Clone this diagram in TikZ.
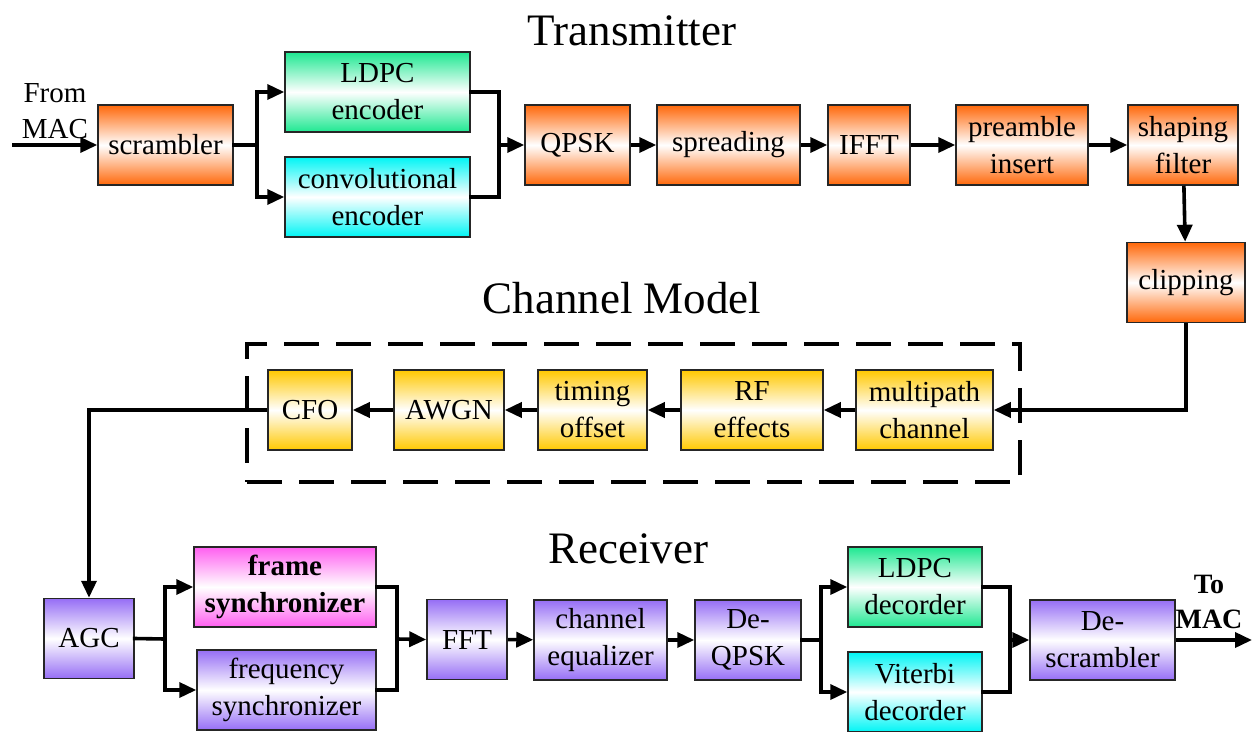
\documentclass[tikz,border=0pt]{standalone}
\usepackage{fontspec}
\setmainfont{Liberation Serif}
\usetikzlibrary{arrows.meta}
\definecolor{orng}{RGB}{255,104,10}
\definecolor{mint}{RGB}{30,232,145}
\definecolor{aqua}{RGB}{0,245,245}
\definecolor{gold}{RGB}{255,200,0}
\definecolor{lilac}{RGB}{150,110,245}
\definecolor{pinkm}{RGB}{255,95,240}
\begin{document}
\begin{tikzpicture}[x=1pt,y=-1pt,
  blk/.style={draw=black!85, line width=1.5pt, inner sep=0pt, minimum height=80pt,
    align=center, font=\fontsize{29}{37}\selectfont},
  txb/.style={blk, top color=orng, bottom color=orng, middle color=white},
  grb/.style={blk, top color=mint, bottom color=mint, middle color=white},
  cyb/.style={blk, top color=aqua, bottom color=aqua, middle color=white},
  chb/.style={blk, top color=gold, bottom color=gold, middle color=white},
  rxb/.style={blk, top color=lilac, bottom color=lilac, middle color=white},
  pkb/.style={blk, top color=pinkm, bottom color=pinkm, middle color=white},
  wire/.style={line width=3.6pt, line join=miter},
  joint/.style={wire, line cap=rect},
  arr/.style={wire, -{Triangle[length=17pt,width=15pt]}},
  ttl/.style={font=\fontsize{45}{54}\selectfont, anchor=base},
  lbl/.style={align=center, font=\fontsize{29}{36}\selectfont}
]
\useasboundingbox (0,0) rectangle (1255,731);

% section titles
\node[ttl] (tTx) at (632,45) {Transmitter};
\node[ttl] (tCh) at (622,313) {Channel Model};
\node[ttl] (tRx) at (628,563) {Receiver};

% transmitter chain
\node[txb, minimum width=135pt] (scr) at (165.5,145) {scrambler};
\node[grb, minimum width=185pt] (ldpc) at (377.5,92) {LDPC\\encoder};
\node[cyb, minimum width=185pt] (conv) at (377.5,197) {convolutional\\encoder};
\node[txb, minimum width=105pt] (qpsk) at (577.5,145) {QPSK};
\node[txb, minimum width=143pt] (spr) at (728.5,145) {spreading};
\node[txb, minimum width=82pt] (ifft) at (869,145) {IFFT};
\node[txb, minimum width=132pt] (pre) at (1022,145) {preamble\\insert};
\node[txb, minimum width=110pt] (shp) at (1183,145) {shaping\\filter};
\node[txb, minimum width=118pt] (clip) at (1186,282.5) {clipping};

\node[lbl] (from) at (55,111) {From\\MAC};
\coordinate (src) at (12,145);
\coordinate (s1) at (257,145);
\coordinate (m1) at (499,145);

\draw[arr] (src) -- (scr.west);
\draw[joint] (scr.east) -- (s1);
\draw[arr] (s1) |- (ldpc.west);
\draw[arr] (s1) |- (conv.west);
\draw[joint] (ldpc.east) -| (m1);
\draw[joint] (conv.east) -| (m1);
\draw[arr] (m1) -- (qpsk.west);
\draw[arr] (qpsk) -- (spr);
\draw[arr] (spr) -- (ifft);
\draw[arr] (ifft) -- (pre);
\draw[arr] (pre) -- (shp);
\draw[arr] (shp) -- (clip);

% channel model
\node[draw, line width=3.2pt, dash pattern=on 35pt off 17pt, minimum width=773pt,
  minimum height=138pt, inner sep=0pt] (chbox) at (633.5,413) {};
\node[chb, minimum width=84pt] (cfo) at (310,410) {CFO};
\node[chb, minimum width=110pt] (awgn) at (449,410) {AWGN};
\node[chb, minimum width=109pt] (tim) at (592.5,410) {timing\\offset};
\node[chb, minimum width=142pt] (rf) at (752,410) {RF\\effects};
\node[chb, minimum width=137pt] (mp) at (924.5,410) {multipath\\channel};

\draw[arr] (clip.south) |- (mp.east);
\draw[arr] (mp) -- (rf);
\draw[arr] (rf) -- (tim);
\draw[arr] (tim) -- (awgn);
\draw[arr] (awgn) -- (cfo);

% receiver chain
\node[rxb, minimum width=90pt] (agc) at (89,638.5) {AGC};
\node[pkb, minimum width=182pt, font=\fontsize{29}{37}\selectfont\bfseries] (frm) at (285,587) {frame\\synchronizer};
\node[rxb, minimum width=179pt] (frq) at (286.5,690) {frequency\\synchronizer};
\node[rxb, minimum width=80pt] (fft) at (467,639.5) {FFT};
\node[rxb, minimum width=133pt] (eq) at (600.5,640) {channel\\equalizer};
\node[rxb, minimum width=106pt] (dq) at (748,640) {De-\\QPSK};
\node[grb, minimum width=134pt] (ldpcd) at (915,587) {LDPC\\decorder};
\node[cyb, minimum width=134pt] (vit) at (915,692) {Viterbi\\decorder};
\node[rxb, minimum width=145pt] (desc) at (1102.5,640) {De-\\scrambler};

\node[lbl, font=\fontsize{28}{35}\selectfont\bfseries] (to) at (1209,602) {To\\MAC};
\coordinate (sink) at (1252,640);
\coordinate (s2) at (165,639);
\coordinate (m2) at (397,639);
\coordinate (s3) at (821,640);
\coordinate (m3) at (1010,640);

\draw[arr] (cfo.west) -| (agc.north);
\draw[joint] (agc.east) -- (s2);
\draw[arr] (s2) |- (frm.west);
\draw[arr] (s2) |- (frq.west);
\draw[joint] (frm.east) -| (m2);
\draw[joint] (frq.east) -| (m2);
\draw[arr] (m2) -- (fft.west);
\draw[arr] (fft) -- (eq);
\draw[arr] (eq) -- (dq);
\draw[joint] (dq.east) -- (s3);
\draw[arr] (s3) |- (ldpcd.west);
\draw[arr] (s3) |- (vit.west);
\draw[joint] (ldpcd.east) -| (m3);
\draw[joint] (vit.east) -| (m3);
\draw[arr] (m3) -- (desc.west);
\draw[arr] (desc.east) -- (sink);
\end{tikzpicture}
\end{document}
